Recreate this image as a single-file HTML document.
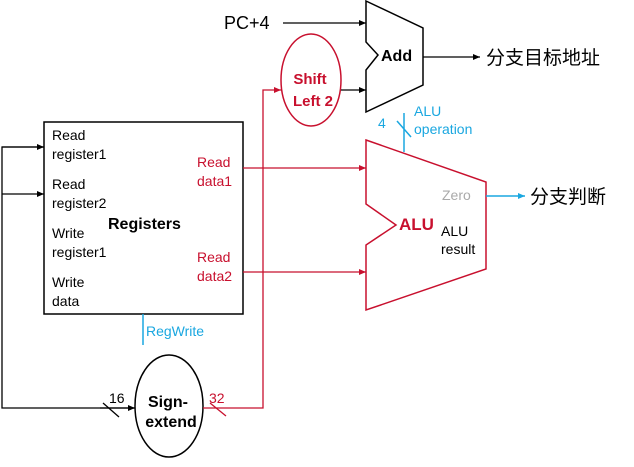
<!DOCTYPE html>
<html><head><meta charset="utf-8"><style>
body{margin:0;background:#fff}
svg{display:block;font-family:"Liberation Sans","Noto Sans CJK SC",sans-serif}
</style></head><body>
<svg width="634" height="467" viewBox="0 0 634 467">
<defs>
<marker id="ak" markerWidth="8" markerHeight="8" refX="7" refY="4" orient="auto" markerUnits="userSpaceOnUse"><path d="M0,1 L7,4 L0,7z" fill="#000"/></marker>
<marker id="ar" markerWidth="8" markerHeight="8" refX="7" refY="4" orient="auto" markerUnits="userSpaceOnUse"><path d="M0,1 L7,4 L0,7z" fill="#c8102e"/></marker>
<marker id="ac" markerWidth="8" markerHeight="8" refX="7" refY="4" orient="auto" markerUnits="userSpaceOnUse"><path d="M0,1 L7,4 L0,7z" fill="#1aa7e0"/></marker>
</defs>
<polygon points="366,1 423,28 423,85 366,112 366,70 378,55 366,42" fill="#fff" stroke="#000" stroke-width="1.5"/>
<text x="381" y="61" font-size="16" font-weight="bold">Add</text>
<line x1="283" y1="23" x2="366" y2="23" stroke="#000" stroke-width="1.3" marker-end="url(#ak)"/>
<text x="224" y="29" font-size="18">PC+4</text>
<line x1="423" y1="57" x2="480" y2="57" stroke="#000" stroke-width="1.3" marker-end="url(#ak)"/>
<text x="486" y="64" font-size="19">分支目标地址</text>
<ellipse cx="311" cy="80" rx="30" ry="46" fill="#fff" stroke="#c8102e" stroke-width="1.5"/>
<text x="310" y="84" font-size="15" font-weight="bold" fill="#c8102e" text-anchor="middle">Shift</text>
<text x="313" y="106" font-size="15" font-weight="bold" fill="#c8102e" text-anchor="middle">Left 2</text>
<line x1="341" y1="90" x2="366" y2="90" stroke="#000" stroke-width="1.3" marker-end="url(#ak)"/>
<polygon points="366,140 486,182 486,269 366,310 366,245 396,225 366,204" fill="#fff" stroke="#c8102e" stroke-width="1.5"/>
<text x="399" y="230" font-size="17" font-weight="bold" fill="#c8102e">ALU</text>
<text x="442" y="200" font-size="14" fill="#aaa">Zero</text>
<text x="441" y="236" font-size="14">ALU</text>
<text x="441" y="254" font-size="14">result</text>
<line x1="486" y1="196" x2="525" y2="196" stroke="#1aa7e0" stroke-width="1.5" marker-end="url(#ac)"/>
<text x="530" y="203" font-size="19">分支判断</text>
<line x1="404" y1="113" x2="404" y2="152" stroke="#1aa7e0" stroke-width="1.5"/>
<line x1="397" y1="121" x2="411" y2="137" stroke="#1aa7e0" stroke-width="1.5"/>
<text x="378" y="128" font-size="14" fill="#1aa7e0">4</text>
<text x="414" y="116" font-size="14" fill="#1aa7e0">ALU</text>
<text x="414" y="134" font-size="14" fill="#1aa7e0">operation</text>
<rect x="44" y="122" width="199" height="192" fill="#fff" stroke="#000" stroke-width="1.5"/>
<g font-size="14">
<text x="52" y="140">Read</text><text x="52" y="159">register1</text>
<text x="52" y="189">Read</text><text x="52" y="208">register2</text>
<text x="52" y="238">Write</text><text x="52" y="257">register1</text>
<text x="52" y="287">Write</text><text x="52" y="306">data</text>
<text x="197" y="167" fill="#c8102e">Read</text><text x="197" y="186" fill="#c8102e">data1</text>
<text x="197" y="262" fill="#c8102e">Read</text><text x="197" y="281" fill="#c8102e">data2</text>
</g>
<text x="108" y="229" font-size="16" font-weight="bold">Registers</text>
<line x1="143" y1="314" x2="143" y2="345" stroke="#1aa7e0" stroke-width="1.5"/>
<text x="146" y="336" font-size="14" fill="#1aa7e0">RegWrite</text>
<polyline points="44,147 2,147 2,408 135,408" fill="none" stroke="#000" stroke-width="1.3"/>
<line x1="2" y1="147" x2="44" y2="147" stroke="#000" stroke-width="1.3" marker-end="url(#ak)"/>
<line x1="2" y1="194" x2="44" y2="194" stroke="#000" stroke-width="1.3" marker-end="url(#ak)"/>
<line x1="100" y1="408" x2="135" y2="408" stroke="#000" stroke-width="1.3" marker-end="url(#ak)"/>
<line x1="103" y1="403" x2="119" y2="417" stroke="#000" stroke-width="1.3"/>
<text x="109" y="403" font-size="14">16</text>
<ellipse cx="169" cy="406" rx="34" ry="51" fill="#fff" stroke="#000" stroke-width="1.5"/>
<text x="168" y="407" font-size="16" font-weight="bold" text-anchor="middle">Sign-</text>
<text x="171" y="427" font-size="16" font-weight="bold" text-anchor="middle">extend</text>
<polyline points="203,408 263,408 263,90 281,90" fill="none" stroke="#c8102e" stroke-width="1.3" marker-end="url(#ar)"/>
<line x1="210" y1="403" x2="226" y2="416" stroke="#c8102e" stroke-width="1.3"/>
<text x="209" y="403" font-size="14" fill="#c8102e">32</text>
<line x1="243" y1="168" x2="366" y2="168" stroke="#c8102e" stroke-width="1.3" marker-end="url(#ar)"/>
<line x1="243" y1="272" x2="366" y2="272" stroke="#c8102e" stroke-width="1.3" marker-end="url(#ar)"/>
</svg>
</body></html>
